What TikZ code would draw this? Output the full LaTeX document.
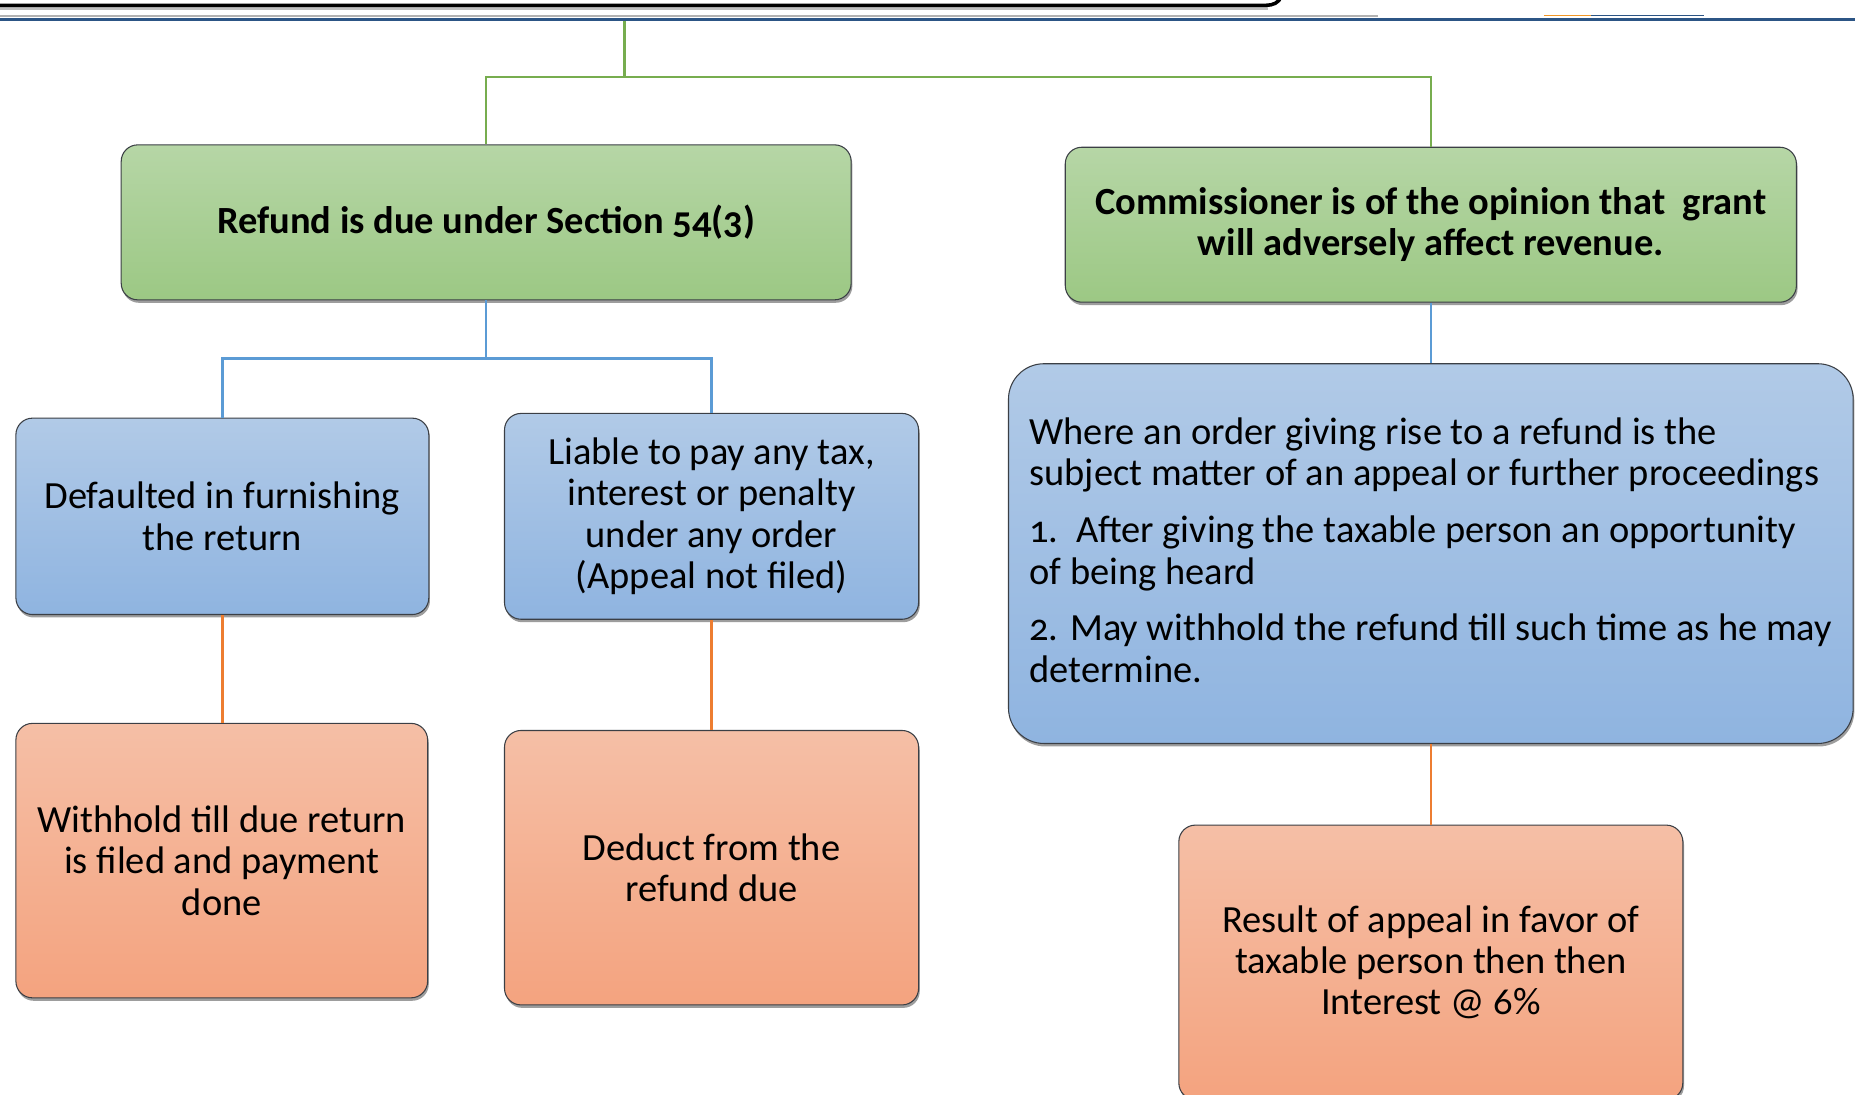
\documentclass[tikz,border=0pt]{standalone}
\usepackage{fontspec}
\setmainfont{Carlito}[Numbers=OldStyle]
\usetikzlibrary{shadows}
\definecolor{gtop}{HTML}{B6D6A6}
\definecolor{gbot}{HTML}{9CC884}
\definecolor{btop}{HTML}{B1CAE7}
\definecolor{bbot}{HTML}{8FB4E0}
\definecolor{otop}{HTML}{F5BFA6}
\definecolor{obot}{HTML}{F4A37F}
\definecolor{edge}{HTML}{3B3F45}
\definecolor{gcon}{HTML}{77AD4F}
\definecolor{bcon}{HTML}{5B9BD5}
\definecolor{ocon}{HTML}{ED7D31}
\definecolor{navy}{HTML}{2C5585}
\newcommand\cardfont{\fontsize{32.5}{35}\selectfont}
\tikzset{
  x=1pt, y=-1pt,
  card/.style={draw=edge, line width=0.9pt, rounded corners=14pt, anchor=north west,
    align=center, inner sep=0pt, font=\cardfont,
    drop shadow={shadow xshift=1pt, shadow yshift=-2.5pt, opacity=0.55, fill=black!70}},
  greencard/.style={card, top color=gtop, bottom color=gbot, font=\cardfont\bfseries},
  bluecard/.style={card, top color=btop, bottom color=bbot},
  orangecard/.style={card, top color=otop, bottom color=obot},
  gline/.style={draw=gcon, line width=2pt},
  bline/.style={draw=bcon, line width=2pt},
  oline/.style={draw=ocon, line width=2pt},
}
\begin{document}
\begin{tikzpicture}
\useasboundingbox (0,0) rectangle (1568,925);
\begin{scope}
\clip (0,0) rectangle (1568,925);
% header rules
\draw[black!25, line width=3pt] (0,7) -- (1072,7);
\draw[black, line width=3pt] (0,4.5) -- (1070,4.5) to[out=0,in=-110] (1083,-3);
\draw[black!30, line width=2pt] (0,13.5) -- (1165,13.5);
\draw[navy, line width=3pt] (0,16.5) -- (1568,16.5);
\draw[ocon!80!yellow, line width=1.2pt] (1305,13) -- (1345,13);
\draw[navy, line width=1.2pt] (1345,13) -- (1440,13);

% boxes
\node[greencard, minimum width=617pt, minimum height=131pt]
  (a) at (102,122) {Refund is due under Section 54(3)};
\node[greencard, minimum width=618pt, minimum height=131pt]
  (b) at (900,124) {Commissioner is of the opinion that\ \ grant\\will adversely affect revenue.};
\node[bluecard, minimum width=349pt, minimum height=166pt]
  (c) at (13,353) {Defaulted in furnishing\\the return};
\node[bluecard, minimum width=350pt, minimum height=174pt]
  (d) at (426,349) {Liable to pay any tax,\\interest or penalty\\under any order\\(Appeal not filed)};
\node[bluecard, minimum width=714pt, minimum height=321pt, rounded corners=30pt]
  (e) at (852,307) {};
\node[anchor=north west, align=left, inner sep=0pt, font=\cardfont]
  (et) at (870,353) {Where an order giving rise to a refund is the\\
    subject matter of an appeal or further proceedings\\[13pt]
    1.\ \ After giving the taxable person an opportunity\\
    of being heard\\[13pt]
    2. May withhold the refund till such time as he may\\
    determine.};
\node[orangecard, minimum width=348pt, minimum height=232pt]
  (f) at (13,611) {Withhold till due return\\is filed and payment\\done};
\node[orangecard, minimum width=350pt, minimum height=232pt]
  (g) at (426,617) {Deduct from the\\refund due};
\node[orangecard, minimum width=426pt, minimum height=232pt]
  (h) at (996,697) {Result of appeal in favor of\\taxable person then then\\Interest @ 6\%};

% green connectors
\coordinate (top) at (528,18);
\coordinate (gj) at (528,65);
\draw[gline] (top) -- (gj) -| (a.north);
\draw[gline] (gj) -| (b.north);
% blue connectors
\draw[bline] (a.south) -- ++(0,49) coordinate (bj);
\draw[bline] (bj) -| (c.north);
\draw[bline] (bj) -| (d.north);
\draw[bline] (b.south) -- (e.north);
% orange connectors
\draw[oline] (c.south) -- (c.south |- f.north);
\draw[oline] (d.south) -- (d.south |- g.north);
\draw[oline] (e.south) -- (e.south |- h.north);
\end{scope}
\end{tikzpicture}
\end{document}
